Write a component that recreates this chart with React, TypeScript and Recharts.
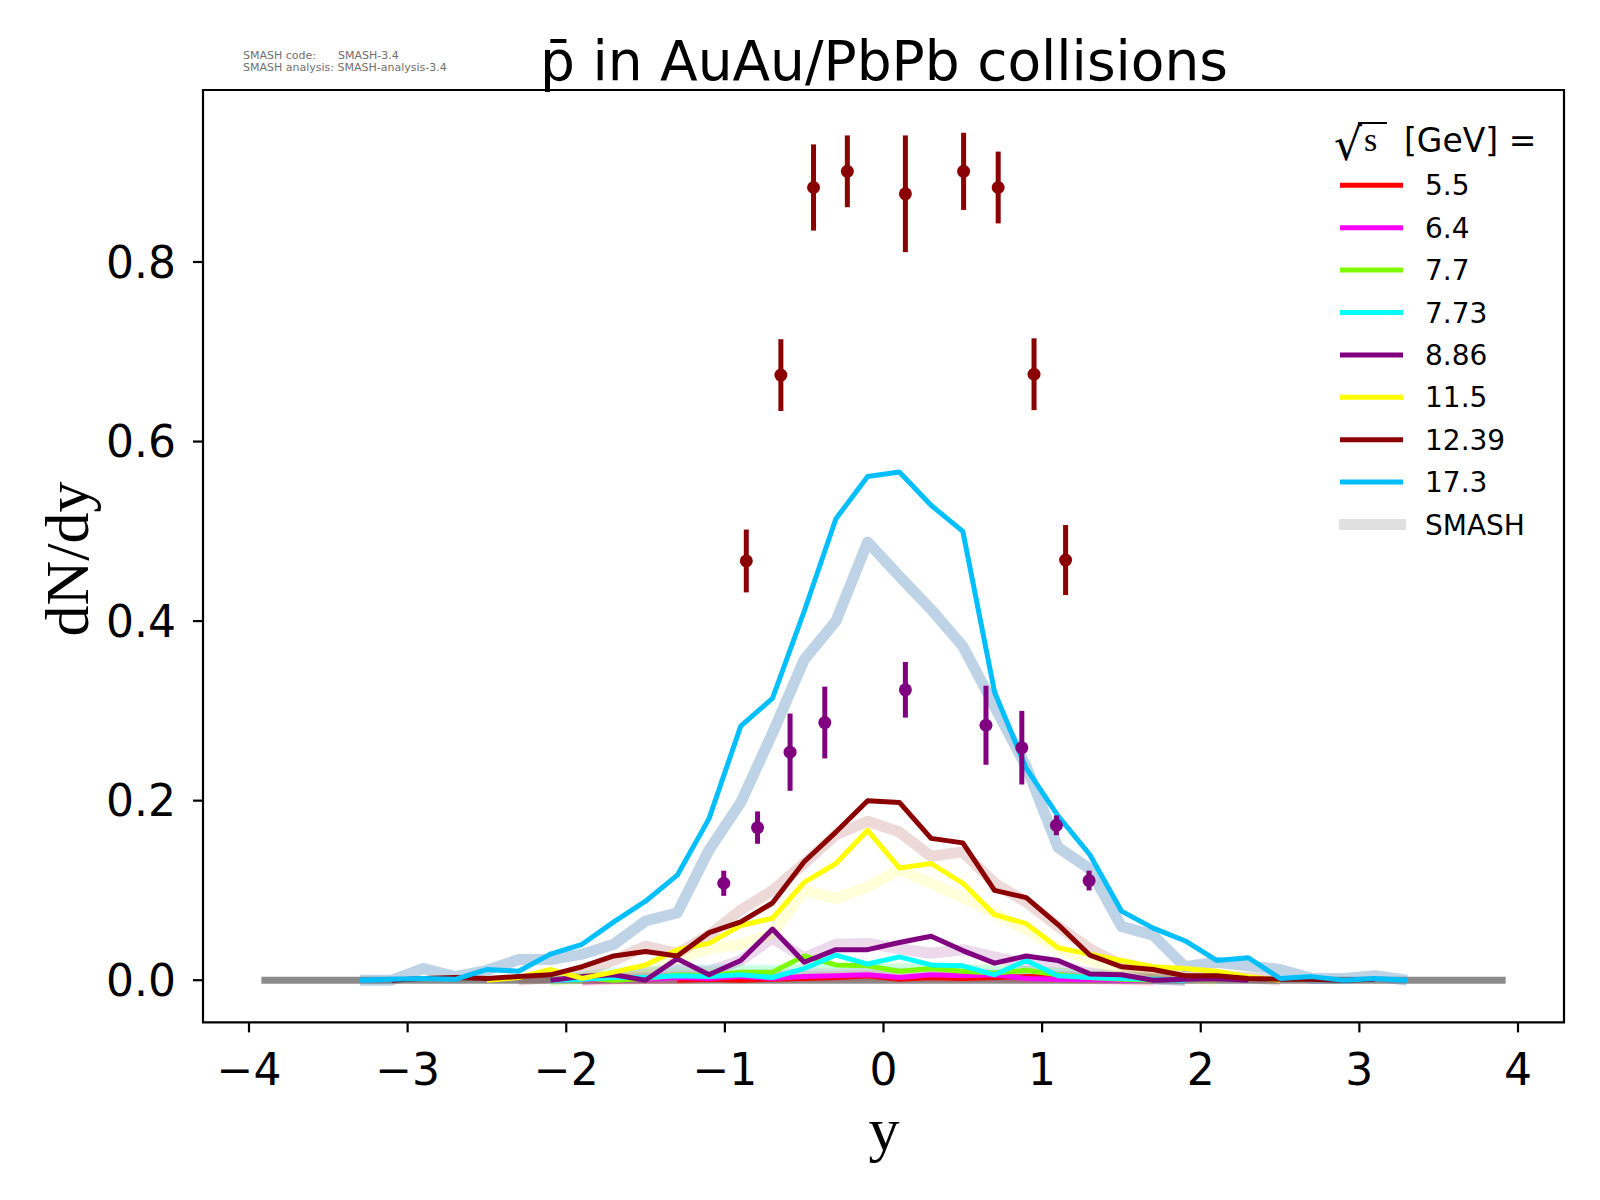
import React from 'react';
import { ComposedChart, Line, Scatter, ErrorBar, XAxis, YAxis, ReferenceArea } from 'recharts';

// rapidity bin centres
const rapidity = [
  -3.9, -3.7, -3.5, -3.3, -3.1, -2.9, -2.7, -2.5, -2.3, -2.1,
  -1.9, -1.7, -1.5, -1.3, -1.1, -0.9, -0.7, -0.5, -0.3, -0.1,
  0.1, 0.3, 0.5, 0.7, 0.9, 1.1, 1.3, 1.5, 1.7, 1.9,
  2.1, 2.3, 2.5, 2.7, 2.9, 3.1, 3.3, 3.5, 3.7, 3.9,
];

const baseline = [
  0, 0, 0, 0, 0, 0, 0, 0, 0, 0, 0, 0, 0, 0, 0, 0, 0, 0, 0, 0,
  0, 0, 0, 0, 0, 0, 0, 0, 0, 0, 0, 0, 0, 0, 0, 0, 0, 0, 0, 0,
];

// thin lines
const r55 = [
  null, null, null, null, null, null, null, null, null, null,
  null, null, null, 0, 0.001, 0, 0.001, 0.002, 0.003, 0.005,
  0.001, 0.003, 0.002, 0.003, 0.004, 0.003, 0.002, 0.001, 0, null,
  null, null, null, null, null, null, null, null, null, null,
];
const m64 = [
  null, null, null, null, null, null, null, null, null, 0,
  0.001, 0.002, 0.001, 0.003, 0.002, 0.004, 0.002, 0.004, 0.005, 0.006,
  0.003, 0.006, 0.005, 0.006, 0.002, 0.001, 0.001, 0, 0, null,
  null, null, null, null, null, null, null, null, null, null,
];
const g77 = [
  null, null, null, null, null, null, null, null, null, 0,
  0.003, 0, 0.002, 0.006, 0.005, 0.009, 0.009, 0.027, 0.017, 0.016,
  0.010, 0.013, 0.010, 0.008, 0.011, 0.006, 0.003, 0.001, 0, null,
  null, null, null, null, null, null, null, null, null, null,
];
const c773 = [
  null, null, null, null, null, null, null, null, null, 0,
  0.001, 0.003, 0.003, 0.005, 0.004, 0.006, 0.003, 0.013, 0.028, 0.018,
  0.026, 0.017, 0.016, 0.006, 0.022, 0.005, 0.003, 0.002, 0.001, 0,
  null, null, null, null, null, null, null, null, null, null,
];
const p886 = [
  null, null, null, null, null, null, null, null, null, 0,
  0.004, 0.006, 0, 0.024, 0.006, 0.022, 0.057, 0.020, 0.034, 0.034,
  0.042, 0.049, 0.033, 0.019, 0.027, 0.022, 0.007, 0.006, 0, 0.001,
  0.002, 0, null, null, null, null, null, null, null, null,
];
const y115 = [
  null, null, null, null, null, null, null, 0, 0.003, 0.012,
  0.002, 0.009, 0.017, 0.034, 0.041, 0.061, 0.069, 0.109, 0.130, 0.167,
  0.125, 0.130, 0.108, 0.073, 0.063, 0.036, 0.029, 0.022, 0.015, 0.013,
  0.010, 0.004, 0, null, null, null, null, null, null, null,
];
const dr1239 = [
  null, null, null, null, 0, 0.002, 0.003, 0.002, 0.004, 0.006,
  0.015, 0.027, 0.032, 0.027, 0.053, 0.065, 0.086, 0.132, 0.165, 0.200,
  0.198, 0.158, 0.153, 0.100, 0.092, 0.062, 0.028, 0.015, 0.012, 0.005,
  0.005, 0.002, 0.001, 0.001, 0, 0.001, null, null, null, null,
];
const b173 = [
  null, null, null, 0, 0.001, 0.002, 0.001, 0.012, 0.010, 0.029,
  0.040, 0.065, 0.088, 0.117, 0.180, 0.283, 0.314, 0.411, 0.514, 0.561,
  0.566, 0.529, 0.500, 0.321, 0.236, 0.183, 0.140, 0.077, 0.058, 0.044,
  0.022, 0.025, 0.002, 0.004, 0, 0.002, 0, null, null, null,
];

// wide translucent lines
const wide55 = [
  null, null, null, null, null, null, null, null, null, null,
  0, 0.001, 0.002, 0.002, 0.003, 0.003, 0.004, 0.004, 0.004, 0.005,
  0.005, 0.004, 0.004, 0.004, 0.003, 0.003, 0.002, 0.001, 0, null,
  null, null, null, null, null, null, null, null, null, null,
];
const wide64 = [
  null, null, null, null, null, null, null, null, null, null,
  0.001, 0.002, 0.003, 0.004, 0.005, 0.006, 0.006, 0.007, 0.007, 0.008,
  0.008, 0.007, 0.007, 0.006, 0.005, 0.004, 0.003, 0.002, 0.001, 0,
  null, null, null, null, null, null, null, null, null, null,
];
const wide77 = [
  null, null, null, null, null, null, null, null, null, 0,
  0.002, 0.004, 0.006, 0.008, 0.009, 0.010, 0.010, 0.012, 0.013, 0.013,
  0.014, 0.013, 0.012, 0.012, 0.010, 0.008, 0.006, 0.004, 0.002, 0,
  null, null, null, null, null, null, null, null, null, null,
];
const wide773 = [
  null, null, null, null, null, null, null, null, null, 0,
  0.004, 0.008, 0.010, 0.012, 0.012, 0.012, 0.011, 0.012, 0.013, 0.012,
  0.012, 0.013, 0.011, 0.010, 0.010, 0.008, 0.005, 0.003, 0.001, 0,
  null, null, null, null, null, null, null, null, null, null,
];
const wide886 = [
  null, null, null, null, null, null, null, null, null, null,
  0, 0.004, 0.008, 0.012, 0.010, 0.022, 0.047, 0.025, 0.040, 0.041,
  0.035, 0.030, 0.034, 0.026, 0.018, 0.014, 0.008, 0.004, 0.002, 0,
  null, null, null, null, null, null, null, null, null, null,
];
const wide115 = [
  null, null, null, null, null, null, null, null, null, 0,
  0.003, 0.006, 0.012, 0.024, 0.035, 0.040, 0.052, 0.100, 0.091, 0.104,
  0.123, 0.108, 0.092, 0.075, 0.056, 0.036, 0.022, 0.012, 0.008, 0.004,
  0, null, null, null, null, null, null, null, null, null,
];
const wide1239 = [
  null, null, null, null, null, null, null, null, 0, 0.003,
  0.008, 0.022, 0.038, 0.030, 0.050, 0.078, 0.100, 0.130, 0.162, 0.177,
  0.165, 0.138, 0.143, 0.108, 0.087, 0.060, 0.035, 0.017, 0.010, 0.006,
  0.004, 0.003, 0, null, null, null, null, null, null, null,
];
const wide173 = [
  null, null, null, 0, 0, 0.013, 0.004, 0.011, 0.023, 0.023,
  0.029, 0.040, 0.066, 0.075, 0.145, 0.198, 0.275, 0.357, 0.400, 0.488,
  0.450, 0.413, 0.372, 0.305, 0.238, 0.148, 0.124, 0.060, 0.050, 0.015,
  0.020, 0.016, 0.012, 0.002, 0.002, 0.005, 0, null, null, null,
];

// measured points
const darkRedX = [-0.865, -0.647, -0.441, -0.228, 0.138, 0.505, 0.723, 0.949, 1.148];
const darkRedY = [0.467, 0.674, 0.883, 0.901, 0.876, 0.901, 0.883, 0.675, 0.468];
const darkRedErr = [0.035, 0.040, 0.048, 0.040, 0.065, 0.043, 0.040, 0.040, 0.039];

const purpleX = [-1.007, -0.794, -0.589, -0.370, 0.138, 0.646, 0.872, 1.090, 1.296];
const purpleY = [0.108, 0.170, 0.254, 0.287, 0.3235, 0.284, 0.259, 0.1725, 0.111];
const purpleErr = [0.014, 0.018, 0.043, 0.040, 0.031, 0.044, 0.041, 0.011, 0.011];

const energyLabels = ['5.5', '6.4', '7.7', '7.73', '8.86', '11.5', '12.39', '17.3'];
const xTicks = [-4, -3, -2, -1, 0, 1, 2, 3, 4];
const yTicks = [0, 0.2, 0.4, 0.6, 0.8];

const toPoints = (vals: (number | null)[]) => rapidity.map((x, i) => ({ x, y: vals[i] }));
const toErrPoints = (xs: number[], ys: number[], errs: number[]) =>
  xs.map((x, i) => ({ x, y: ys[i], err: errs[i] }));

const thin = [
  { color: '#ff0000', vals: r55 },
  { color: '#ff00ff', vals: m64 },
  { color: '#7cfc00', vals: g77 },
  { color: '#00ffff', vals: c773 },
  { color: '#800080', vals: p886 },
  { color: '#ffff00', vals: y115 },
  { color: '#8b0000', vals: dr1239 },
  { color: '#00bfff', vals: b173 },
];

const wide = [
  { color: '#ff0000', op: 0.15, vals: wide55 },
  { color: '#ff00ff', op: 0.15, vals: wide64 },
  { color: '#7cfc00', op: 0.15, vals: wide77 },
  { color: '#00ffff', op: 0.15, vals: wide773 },
  { color: '#800080', op: 0.15, vals: wide886 },
  { color: '#ffff00', op: 0.15, vals: wide115 },
  { color: '#8b0000', op: 0.15, vals: wide1239 },
  { color: '#4682b4', op: 0.35, vals: wide173 },
];

const sans = 'DejaVu Sans';
const serif = 'Liberation Serif';

const fmtX = (v: number) => (v < 0 ? `\u2212${Math.abs(v)}` : `${v}`);

const dot = (color: string) => (props: any) =>
  <circle cx={props.cx} cy={props.cy} r={6.5} fill={color} />;

export default function App() {
  return (
    <div style={{ position: 'absolute', left: 0, top: 0, width: 1600, height: 1200, background: '#fff' }}>
      <ComposedChart width={1600} height={1200} margin={{ top: 90, right: 36, bottom: 0, left: 0 }}>
        <XAxis
          dataKey="x"
          type="number"
          domain={[-4.29, 4.29]}
          allowDataOverflow
          ticks={xTicks}
          tickFormatter={fmtX}
          height={177.6}
          axisLine={false}
          tickLine={{ stroke: '#000', strokeWidth: 2.2 }}
          tickSize={10}
          tickMargin={21}
          tick={{ fontFamily: sans, fontSize: 44, fill: '#000' }}
        />
        <YAxis
          type="number"
          domain={[-0.047, 0.9916]}
          allowDataOverflow
          ticks={yTicks}
          tickFormatter={(v: number) => v.toFixed(1)}
          width={203}
          axisLine={false}
          tickLine={{ stroke: '#000', strokeWidth: 2.2 }}
          tickSize={10}
          tickMargin={17}
          tick={{ fontFamily: sans, fontSize: 44, fill: '#000' }}
        />
        <Line
          data={toPoints(baseline)}
          dataKey="y"
          stroke="#8c8c8c"
          strokeWidth={7}
          strokeLinecap="square"
          dot={false}
          activeDot={false}
          isAnimationActive={false}
        />
        {wide.map((s, i) => (
          <Line
            key={`w${i}`}
            data={toPoints(s.vals)}
            dataKey="y"
            stroke={s.color}
            strokeOpacity={s.op}
            strokeWidth={11}
            strokeLinejoin="round"
            dot={false}
            activeDot={false}
            isAnimationActive={false}
          />
        ))}
        {thin.map((s, i) => (
          <Line
            key={`t${i}`}
            data={toPoints(s.vals)}
            dataKey="y"
            stroke={s.color}
            strokeWidth={5}
            strokeLinejoin="round"
            dot={false}
            activeDot={false}
            isAnimationActive={false}
          />
        ))}
        <Scatter
          data={toErrPoints(purpleX, purpleY, purpleErr)}
          dataKey="y"
          fill="#800080"
          shape={dot('#800080')}
          isAnimationActive={false}
        >
          <ErrorBar dataKey="err" direction="y" width={0} stroke="#800080" strokeWidth={5} />
        </Scatter>
        <Scatter
          data={toErrPoints(darkRedX, darkRedY, darkRedErr)}
          dataKey="y"
          fill="#8b0000"
          shape={dot('#8b0000')}
          isAnimationActive={false}
        >
          <ErrorBar dataKey="err" direction="y" width={0} stroke="#8b0000" strokeWidth={5} />
        </Scatter>
        <ReferenceArea
          x1={-4.29}
          x2={4.29}
          y1={-0.047}
          y2={0.9916}
          fill="none"
          fillOpacity={0}
          stroke="#000"
          strokeWidth={2.2}
          ifOverflow="extendDomain"
        />
      </ComposedChart>

      <svg width={1600} height={1200} style={{ position: 'absolute', left: 0, top: 0, pointerEvents: 'none' }}>
        <text x={243} y={59} fontFamily={sans} fontSize={11} fill="#707070">SMASH code:</text>
        <text x={338} y={59} fontFamily={sans} fontSize={11} fill="#707070">SMASH-3.4</text>
        <text x={243} y={71} fontFamily={sans} fontSize={11} fill="#707070">SMASH analysis: SMASH-analysis-3.4</text>

        <text x={884} y={80} textAnchor="middle" fontFamily={sans} fontSize={55} fill="#000">p̄ in AuAu/PbPb collisions</text>

        <text x={88} y={559} transform="rotate(-90 88 559)" textAnchor="middle" fontFamily={serif} fontSize={62} fill="#000">dN/dy</text>
        <text x={884} y={1150} textAnchor="middle" fontFamily={serif} fontSize={62} fill="#000">y</text>

        {/* legend */}
        <text x={1334} y={160} fontFamily={sans} fontSize={44} fill="#000">√</text>
        <line x1={1358} y1={123} x2={1387} y2={123} stroke="#000" strokeWidth={2} />
        <text x={1364} y={151} fontFamily={serif} fontSize={34} fill="#000">s</text>
        <text x={1404} y={152} fontFamily={sans} fontSize={33} fill="#000">[GeV] =</text>
        {energyLabels.map((lab, i) => {
          const cy = 185.3 + i * 42.4;
          return (
            <g key={lab}>
              <line x1={1340} y1={cy} x2={1403} y2={cy} stroke={thin[i].color} strokeWidth={5} />
              <text x={1425} y={cy + 10} fontFamily={sans} fontSize={28} fill="#000">{lab}</text>
            </g>
          );
        })}
        <line x1={1339} y1={524.5} x2={1406} y2={524.5} stroke="#e0e0e0" strokeWidth={11} />
        <text x={1425} y={534.5} fontFamily={sans} fontSize={28} fill="#000">SMASH</text>
      </svg>
    </div>
  );
}
